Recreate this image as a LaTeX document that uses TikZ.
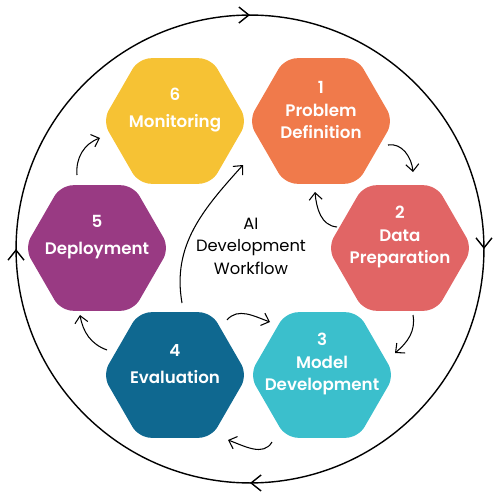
\documentclass[tikz,border=0pt]{standalone}
\usepackage{fontspec}
\setmainfont{Poppins}[BoldFont={Poppins SemiBold}]
\usepackage{tikz}
\usetikzlibrary{shapes.geometric,arrows.meta,decorations.markings}

\definecolor{probc}{HTML}{F07A4B}
\definecolor{datac}{HTML}{E16565}
\definecolor{modelc}{HTML}{3BBFCC}
\definecolor{evalc}{HTML}{0F6890}
\definecolor{deployc}{HTML}{993A83}
\definecolor{monitc}{HTML}{F6C234}

\begin{document}
\begin{tikzpicture}[x=0.02cm, y=0.02cm, >={Straight Barb[length=1.4mm,width=2.6mm]},
  hexa/.style={regular polygon, regular polygon sides=6,
    minimum size=2.9cm, rounded corners=7pt, inner sep=0pt},
  steplabel/.style={text=white, align=center, inner sep=0pt,
    font=\fontsize{9.5}{12.8}\selectfont\bfseries},
  link/.style={->, semithick}]
\useasboundingbox (0,0) rectangle (501,498);
% outer cycle
\coordinate (centre) at (250,249);
\draw[line width=0.8pt, postaction={decorate},
  decoration={markings,
    mark=at position 0.125 with {\arrow{Straight Barb[length=2mm,width=3.2mm]}},
    mark=at position 0.375 with {\arrow{Straight Barb[length=2mm,width=3.2mm]}},
    mark=at position 0.625 with {\arrow{Straight Barb[length=2mm,width=3.2mm]}},
    mark=at position 0.875 with {\arrow{Straight Barb[length=2mm,width=3.2mm]}}}]
  (centre) ++(45:4.68cm) arc[start angle=45, end angle=-315, radius=4.68cm];
% the six steps
\node[hexa, fill=probc] (prob) at (321,377) {};
\node[hexa, fill=datac] (data) at (400,250) {};
\node[hexa, fill=modelc] (model) at (322,123) {};
\node[hexa, fill=evalc] (eval) at (175,123) {};
\node[hexa, fill=deployc] (deploy) at (97,250) {};
\node[hexa, fill=monitc] (monit) at (175,377) {};
\node[steplabel] (probtxt) at (321,388) {1\\Problem\\Definition};
\node[steplabel] (datatxt) at (400,261) {2\\Data\\Preparation};
\node[steplabel] (modeltxt) at (322,134) {3\\Model\\Development};
\node[steplabel] (evaltxt) at (175,134) {4\\[3pt]Evaluation};
\node[steplabel] (deploytxt) at (97,261) {5\\[3pt]Deployment};
\node[steplabel] (monittxt) at (175,388) {6\\[3pt]Monitoring};
\node[align=center, inner sep=0pt, font=\fontsize{9.3}{12.8}\selectfont] (title) at (251,252) {AI\\Development\\Workflow};
% arrow ends
\coordinate (s12) at (388,353); \coordinate (e12) at (413,326);
\coordinate (s21) at (337,271); \coordinate (e21) at (315,306);
\coordinate (s23) at (413,183); \coordinate (e23) at (395,145);
\coordinate (s34) at (272,56);  \coordinate (e34) at (228,58);
\coordinate (s43) at (227,178); \coordinate (e43) at (270,176);
\coordinate (s45) at (107,148); \coordinate (e45) at (80,183);
\coordinate (s56) at (77,323);  \coordinate (e56) at (100,360);
\coordinate (s41) at (182,195); \coordinate (e41) at (243,333);
\draw[link] (s12) to [out=10,in=95] (e12);
\draw[link] (s21) to [out=175,in=-85] (e21);
\draw[link] (s23) to [out=-80,in=40] (e23);
\draw[link] (s34) to [out=-120,in=-20] (e34);
\draw[link] (s43) to [out=50,in=160] (e43);
\draw[link] (s45) to [out=160,in=-80] (e45);
\draw[link] (s56) to [out=95,in=200] (e56);
\draw[link] (s41) to [out=100,in=228] (e41);
\end{tikzpicture}
\end{document}
